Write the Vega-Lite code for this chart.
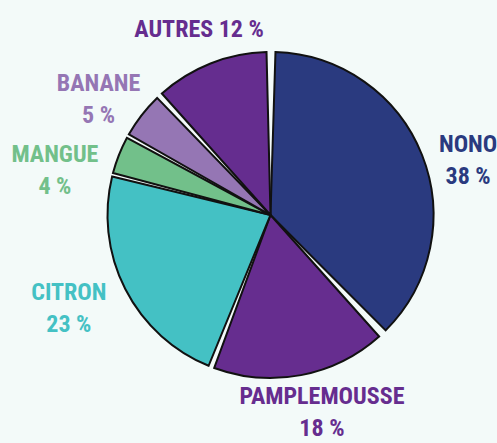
{
  "$schema": "https://vega.github.io/schema/vega-lite/v6.json",
  "autosize": {"type": "none"},
  "width": 453,
  "height": 430,
  "padding": {"left": 44, "top": 0, "right": 0, "bottom": 13},
  "background": "#f3faf9",
  "view": {"stroke": null},
  "data": {
    "values": [
      {"fruit": "NONO", "value": 38, "idx": 1},
      {"fruit": "PAMPLEMOUSSE", "value": 18, "idx": 2},
      {"fruit": "CITRON", "value": 23, "idx": 3},
      {"fruit": "MANGUE", "value": 4, "idx": 4},
      {"fruit": "BANANE", "value": 5, "idx": 5},
      {"fruit": "AUTRES", "value": 12, "idx": 6}
    ]
  },
  "transform": [
    {"calculate": "datum.fruit + (datum.fruit == 'AUTRES' ? ' ' : '\\n') + datum.value + ' %'", "as": "label"}
  ],
  "encoding": {
    "theta": {"field": "value", "type": "quantitative", "stack": true},
    "order": {"field": "idx", "type": "quantitative"},
    "color": {
      "field": "fruit",
      "type": "nominal",
      "legend": null,
      "scale": {
        "domain": ["NONO", "PAMPLEMOUSSE", "CITRON", "MANGUE", "BANANE", "AUTRES"],
        "range": ["#2a3a7f", "#662d8f", "#44c1c4", "#72c08a", "#9576b4", "#652d8f"]
      }
    }
  },
  "layer": [
    {
      "mark": {
        "type": "arc", "outerRadius": 163, "stroke": "#111111", "strokeWidth": 2,
        "padAngle": {"expr": "datum.fruit == 'NONO' ? 0.061 : datum.fruit == 'PAMPLEMOUSSE' ? 0.049 : datum.fruit == 'CITRON' ? 0.025 : datum.fruit == 'MANGUE' ? 0.018 : datum.fruit == 'BANANE' ? 0.031 : 0.049"}
      }
    },
    {
      "mark": {
        "type": "text", "radius": 205, "font": "Roboto Condensed, DejaVu Sans Condensed", "fontWeight": "bold", "fontSize": 24, "lineHeight": 32, "lineBreak": "\n", "align": "center", "baseline": "middle",
        "dx": {"expr": "datum.fruit == 'BANANE' ? -10 : datum.fruit == 'MANGUE' ? -25 : datum.fruit == 'CITRON' ? -19 : datum.fruit == 'PAMPLEMOUSSE' ? 13 : datum.fruit == 'NONO' ? 7 : 4"},
        "dy": {"expr": "datum.fruit == 'BANANE' ? -5 : datum.fruit == 'MANGUE' ? 15 : datum.fruit == 'CITRON' ? -15 : datum.fruit == 'PAMPLEMOUSSE' ? -19 : datum.fruit == 'NONO' ? 5 : 6"}
      },
      "encoding": {
        "text": {"field": "label"}
      }
    }
  ]
}
